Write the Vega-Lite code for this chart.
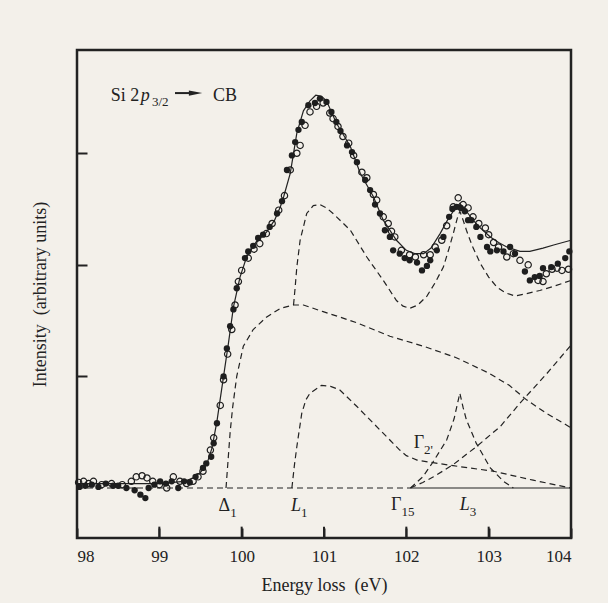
{
  "$schema": "https://vega.github.io/schema/vega-lite/v6.json",
  "width": 494,
  "height": 488,
  "autosize": {"type": "none"},
  "padding": {"left": 77, "top": 50, "right": 37, "bottom": 65},
  "background": "#f3f0ea",
  "datasets": {
    "curves": [
      {"s": "base1", "x": 98.0, "y": 0}, {"s": "base1", "x": 102.05, "y": 0},
      {"s": "base2", "x": 102.05, "y": 0}, {"s": "base2", "x": 104.0, "y": 0},
      {"s": "fit", "x": 98.0, "y": 0.04}, {"s": "fit", "x": 98.5, "y": 0.04}, {"s": "fit", "x": 99.0, "y": 0.04},
      {"s": "fit", "x": 99.3, "y": 0.06}, {"s": "fit", "x": 99.41, "y": 0.09}, {"s": "fit", "x": 99.5, "y": 0.14},
      {"s": "fit", "x": 99.575, "y": 0.21}, {"s": "fit", "x": 99.64, "y": 0.36}, {"s": "fit", "x": 99.7, "y": 0.6},
      {"s": "fit", "x": 99.78, "y": 1.0}, {"s": "fit", "x": 99.84, "y": 1.3}, {"s": "fit", "x": 99.9, "y": 1.62},
      {"s": "fit", "x": 99.98, "y": 1.89}, {"s": "fit", "x": 100.06, "y": 2.07}, {"s": "fit", "x": 100.18, "y": 2.21},
      {"s": "fit", "x": 100.3, "y": 2.29}, {"s": "fit", "x": 100.4, "y": 2.4}, {"s": "fit", "x": 100.47, "y": 2.52},
      {"s": "fit", "x": 100.51, "y": 2.61}, {"s": "fit", "x": 100.59, "y": 2.82}, {"s": "fit", "x": 100.67, "y": 3.18},
      {"s": "fit", "x": 100.75, "y": 3.38}, {"s": "fit", "x": 100.83, "y": 3.47}, {"s": "fit", "x": 100.9, "y": 3.52},
      {"s": "fit", "x": 100.97, "y": 3.51}, {"s": "fit", "x": 101.03, "y": 3.47}, {"s": "fit", "x": 101.15, "y": 3.27},
      {"s": "fit", "x": 101.32, "y": 3.06}, {"s": "fit", "x": 101.44, "y": 2.82}, {"s": "fit", "x": 101.6, "y": 2.61},
      {"s": "fit", "x": 101.72, "y": 2.4}, {"s": "fit", "x": 101.88, "y": 2.22}, {"s": "fit", "x": 102.0, "y": 2.13},
      {"s": "fit", "x": 102.1, "y": 2.1}, {"s": "fit", "x": 102.21, "y": 2.1}, {"s": "fit", "x": 102.3, "y": 2.15},
      {"s": "fit", "x": 102.41, "y": 2.28}, {"s": "fit", "x": 102.5, "y": 2.4}, {"s": "fit", "x": 102.57, "y": 2.48},
      {"s": "fit", "x": 102.65, "y": 2.55}, {"s": "fit", "x": 102.73, "y": 2.48}, {"s": "fit", "x": 102.81, "y": 2.4},
      {"s": "fit", "x": 102.9, "y": 2.33}, {"s": "fit", "x": 103.02, "y": 2.25}, {"s": "fit", "x": 103.12, "y": 2.2},
      {"s": "fit", "x": 103.22, "y": 2.16}, {"s": "fit", "x": 103.38, "y": 2.12}, {"s": "fit", "x": 103.5, "y": 2.12},
      {"s": "fit", "x": 103.66, "y": 2.15}, {"s": "fit", "x": 103.8, "y": 2.18}, {"s": "fit", "x": 104.0, "y": 2.22},
      {"s": "sum", "x": 100.63, "y": 1.64}, {"s": "sum", "x": 100.65, "y": 1.8}, {"s": "sum", "x": 100.67, "y": 1.98},
      {"s": "sum", "x": 100.71, "y": 2.22}, {"s": "sum", "x": 100.79, "y": 2.46}, {"s": "sum", "x": 100.87, "y": 2.53},
      {"s": "sum", "x": 100.95, "y": 2.54}, {"s": "sum", "x": 101.03, "y": 2.51}, {"s": "sum", "x": 101.11, "y": 2.46},
      {"s": "sum", "x": 101.32, "y": 2.31}, {"s": "sum", "x": 101.52, "y": 2.07}, {"s": "sum", "x": 101.72, "y": 1.86},
      {"s": "sum", "x": 101.88, "y": 1.68}, {"s": "sum", "x": 101.96, "y": 1.63}, {"s": "sum", "x": 102.04, "y": 1.61},
      {"s": "sum", "x": 102.14, "y": 1.64}, {"s": "sum", "x": 102.25, "y": 1.72}, {"s": "sum", "x": 102.35, "y": 1.84},
      {"s": "sum", "x": 102.45, "y": 1.98}, {"s": "sum", "x": 102.52, "y": 2.15}, {"s": "sum", "x": 102.57, "y": 2.28},
      {"s": "sum", "x": 102.62, "y": 2.42}, {"s": "sum", "x": 102.65, "y": 2.48}, {"s": "sum", "x": 102.69, "y": 2.4},
      {"s": "sum", "x": 102.73, "y": 2.31}, {"s": "sum", "x": 102.8, "y": 2.17}, {"s": "sum", "x": 102.9, "y": 2.01},
      {"s": "sum", "x": 103.0, "y": 1.89}, {"s": "sum", "x": 103.1, "y": 1.8}, {"s": "sum", "x": 103.2, "y": 1.75},
      {"s": "sum", "x": 103.32, "y": 1.72}, {"s": "sum", "x": 103.45, "y": 1.74}, {"s": "sum", "x": 103.62, "y": 1.77},
      {"s": "sum", "x": 103.8, "y": 1.81}, {"s": "sum", "x": 104.0, "y": 1.86},
      {"s": "d1", "x": 99.81, "y": 0}, {"s": "d1", "x": 99.83, "y": 0.2}, {"s": "d1", "x": 99.86, "y": 0.5},
      {"s": "d1", "x": 99.89, "y": 0.72}, {"s": "d1", "x": 99.94, "y": 1.0}, {"s": "d1", "x": 100.02, "y": 1.27},
      {"s": "d1", "x": 100.14, "y": 1.42}, {"s": "d1", "x": 100.3, "y": 1.53}, {"s": "d1", "x": 100.47, "y": 1.61},
      {"s": "d1", "x": 100.63, "y": 1.64}, {"s": "d1", "x": 100.75, "y": 1.64}, {"s": "d1", "x": 100.99, "y": 1.58},
      {"s": "d1", "x": 101.2, "y": 1.53}, {"s": "d1", "x": 101.4, "y": 1.48}, {"s": "d1", "x": 101.8, "y": 1.36},
      {"s": "d1", "x": 102.21, "y": 1.27}, {"s": "d1", "x": 102.6, "y": 1.17}, {"s": "d1", "x": 103.0, "y": 1.03},
      {"s": "d1", "x": 103.25, "y": 0.92}, {"s": "d1", "x": 103.46, "y": 0.79}, {"s": "d1", "x": 103.7, "y": 0.67},
      {"s": "d1", "x": 104.0, "y": 0.54},
      {"s": "l1", "x": 100.61, "y": 0}, {"s": "l1", "x": 100.64, "y": 0.2}, {"s": "l1", "x": 100.67, "y": 0.37},
      {"s": "l1", "x": 100.73, "y": 0.67}, {"s": "l1", "x": 100.78, "y": 0.79}, {"s": "l1", "x": 100.83, "y": 0.85},
      {"s": "l1", "x": 100.97, "y": 0.92}, {"s": "l1", "x": 101.08, "y": 0.91}, {"s": "l1", "x": 101.19, "y": 0.88},
      {"s": "l1", "x": 101.4, "y": 0.73}, {"s": "l1", "x": 101.6, "y": 0.58}, {"s": "l1", "x": 101.8, "y": 0.43},
      {"s": "l1", "x": 101.92, "y": 0.34}, {"s": "l1", "x": 102.0, "y": 0.29}, {"s": "l1", "x": 102.13, "y": 0.25},
      {"s": "l1", "x": 102.3, "y": 0.23}, {"s": "l1", "x": 102.57, "y": 0.2}, {"s": "l1", "x": 103.06, "y": 0.15},
      {"s": "l1", "x": 103.54, "y": 0.07}, {"s": "l1", "x": 104.0, "y": 0.0},
      {"s": "g15", "x": 102.05, "y": 0}, {"s": "g15", "x": 102.2, "y": 0.05}, {"s": "g15", "x": 102.33, "y": 0.1},
      {"s": "g15", "x": 102.57, "y": 0.21}, {"s": "g15", "x": 102.85, "y": 0.37}, {"s": "g15", "x": 103.14, "y": 0.55},
      {"s": "g15", "x": 103.38, "y": 0.76}, {"s": "g15", "x": 103.7, "y": 1.02}, {"s": "g15", "x": 104.0, "y": 1.28},
      {"s": "l3", "x": 102.05, "y": 0}, {"s": "l3", "x": 102.2, "y": 0.1}, {"s": "l3", "x": 102.33, "y": 0.24},
      {"s": "l3", "x": 102.49, "y": 0.43}, {"s": "l3", "x": 102.58, "y": 0.62}, {"s": "l3", "x": 102.65, "y": 0.85},
      {"s": "l3", "x": 102.69, "y": 0.72}, {"s": "l3", "x": 102.73, "y": 0.61}, {"s": "l3", "x": 102.85, "y": 0.4},
      {"s": "l3", "x": 103.02, "y": 0.18}, {"s": "l3", "x": 103.18, "y": 0.06}, {"s": "l3", "x": 103.3, "y": 0}
    ],
    "points": [
      {"k": "o", "x": 98.02, "y": 0.05}, {"k": "o", "x": 98.08, "y": 0.06}, {"k": "o", "x": 98.14, "y": 0.04},
      {"k": "o", "x": 98.2, "y": 0.06}, {"k": "o", "x": 98.3, "y": 0.03}, {"k": "o", "x": 98.42, "y": 0.04},
      {"k": "o", "x": 98.55, "y": 0.03}, {"k": "o", "x": 98.66, "y": 0.06}, {"k": "o", "x": 98.72, "y": 0.1},
      {"k": "o", "x": 98.79, "y": 0.11}, {"k": "o", "x": 98.85, "y": 0.09}, {"k": "o", "x": 98.92, "y": 0.06},
      {"k": "o", "x": 99.0, "y": 0.03}, {"k": "o", "x": 99.09, "y": 0.0}, {"k": "o", "x": 99.17, "y": 0.1},
      {"k": "o", "x": 99.25, "y": 0.06}, {"k": "o", "x": 99.33, "y": 0.04}, {"k": "o", "x": 99.41, "y": 0.06},
      {"k": "o", "x": 99.47, "y": 0.1}, {"k": "o", "x": 99.53, "y": 0.15}, {"k": "o", "x": 99.62, "y": 0.34},
      {"k": "o", "x": 99.66, "y": 0.45}, {"k": "o", "x": 99.74, "y": 0.74}, {"k": "o", "x": 99.78, "y": 0.97},
      {"k": "o", "x": 99.83, "y": 1.2}, {"k": "o", "x": 99.88, "y": 1.42}, {"k": "o", "x": 99.92, "y": 1.64},
      {"k": "o", "x": 99.96, "y": 1.85}, {"k": "o", "x": 100.0, "y": 1.95}, {"k": "o", "x": 100.08, "y": 2.06},
      {"k": "o", "x": 100.15, "y": 2.14}, {"k": "o", "x": 100.22, "y": 2.19}, {"k": "o", "x": 100.3, "y": 2.28},
      {"k": "o", "x": 100.37, "y": 2.37}, {"k": "o", "x": 100.45, "y": 2.49}, {"k": "o", "x": 100.52, "y": 2.62},
      {"k": "o", "x": 100.59, "y": 2.85}, {"k": "o", "x": 100.67, "y": 3.0}, {"k": "o", "x": 100.71, "y": 3.07},
      {"k": "o", "x": 100.77, "y": 3.25}, {"k": "o", "x": 100.83, "y": 3.37}, {"k": "o", "x": 100.91, "y": 3.42},
      {"k": "o", "x": 100.99, "y": 3.45}, {"k": "o", "x": 101.07, "y": 3.36}, {"k": "o", "x": 101.11, "y": 3.31},
      {"k": "o", "x": 101.17, "y": 3.24}, {"k": "o", "x": 101.23, "y": 3.15}, {"k": "o", "x": 101.3, "y": 3.09},
      {"k": "o", "x": 101.36, "y": 2.98}, {"k": "o", "x": 101.46, "y": 2.83}, {"k": "o", "x": 101.52, "y": 2.78},
      {"k": "o", "x": 101.6, "y": 2.63}, {"k": "o", "x": 101.64, "y": 2.58}, {"k": "o", "x": 101.72, "y": 2.43},
      {"k": "o", "x": 101.78, "y": 2.37}, {"k": "o", "x": 101.82, "y": 2.3}, {"k": "o", "x": 101.86, "y": 2.25},
      {"k": "o", "x": 101.94, "y": 2.13}, {"k": "o", "x": 102.04, "y": 2.09}, {"k": "o", "x": 102.11, "y": 2.07},
      {"k": "o", "x": 102.21, "y": 2.09}, {"k": "o", "x": 102.29, "y": 2.09}, {"k": "o", "x": 102.35, "y": 2.16},
      {"k": "o", "x": 102.43, "y": 2.22}, {"k": "o", "x": 102.49, "y": 2.35}, {"k": "o", "x": 102.57, "y": 2.52},
      {"k": "o", "x": 102.63, "y": 2.6}, {"k": "o", "x": 102.69, "y": 2.54}, {"k": "o", "x": 102.75, "y": 2.51},
      {"k": "o", "x": 102.81, "y": 2.43}, {"k": "o", "x": 102.88, "y": 2.37}, {"k": "o", "x": 102.96, "y": 2.33},
      {"k": "o", "x": 103.0, "y": 2.27}, {"k": "o", "x": 103.06, "y": 2.2}, {"k": "o", "x": 103.12, "y": 2.16},
      {"k": "o", "x": 103.22, "y": 2.07}, {"k": "o", "x": 103.3, "y": 2.1}, {"k": "o", "x": 103.38, "y": 2.04},
      {"k": "o", "x": 103.48, "y": 2.0}, {"k": "o", "x": 103.6, "y": 1.86}, {"k": "o", "x": 103.66, "y": 1.85},
      {"k": "o", "x": 103.7, "y": 1.92}, {"k": "o", "x": 103.77, "y": 1.96}, {"k": "o", "x": 103.83, "y": 1.97},
      {"k": "o", "x": 103.89, "y": 1.95}, {"k": "o", "x": 103.97, "y": 1.96},
      {"k": "f", "x": 98.03, "y": 0.01}, {"k": "f", "x": 98.1, "y": 0.02}, {"k": "f", "x": 98.18, "y": 0.03},
      {"k": "f", "x": 98.26, "y": 0.01}, {"k": "f", "x": 98.35, "y": 0.04}, {"k": "f", "x": 98.44, "y": 0.02},
      {"k": "f", "x": 98.5, "y": 0.02}, {"k": "f", "x": 98.6, "y": 0.0}, {"k": "f", "x": 98.7, "y": -0.02},
      {"k": "f", "x": 98.77, "y": -0.06}, {"k": "f", "x": 98.83, "y": -0.09}, {"k": "f", "x": 98.87, "y": 0.0},
      {"k": "f", "x": 98.94, "y": 0.03}, {"k": "f", "x": 99.01, "y": 0.06}, {"k": "f", "x": 99.08, "y": 0.04},
      {"k": "f", "x": 99.15, "y": 0.06}, {"k": "f", "x": 99.23, "y": 0.0}, {"k": "f", "x": 99.3, "y": 0.06},
      {"k": "f", "x": 99.37, "y": 0.05}, {"k": "f", "x": 99.44, "y": 0.1}, {"k": "f", "x": 99.53, "y": 0.18},
      {"k": "f", "x": 99.57, "y": 0.22}, {"k": "f", "x": 99.63, "y": 0.28}, {"k": "f", "x": 99.66, "y": 0.4},
      {"k": "f", "x": 99.7, "y": 0.58}, {"k": "f", "x": 99.78, "y": 1.0}, {"k": "f", "x": 99.82, "y": 1.25},
      {"k": "f", "x": 99.86, "y": 1.45}, {"k": "f", "x": 99.9, "y": 1.6}, {"k": "f", "x": 99.94, "y": 1.79},
      {"k": "f", "x": 100.04, "y": 2.06}, {"k": "f", "x": 100.08, "y": 2.12}, {"k": "f", "x": 100.14, "y": 2.17},
      {"k": "f", "x": 100.2, "y": 2.24}, {"k": "f", "x": 100.26, "y": 2.27}, {"k": "f", "x": 100.34, "y": 2.34},
      {"k": "f", "x": 100.43, "y": 2.46}, {"k": "f", "x": 100.49, "y": 2.57}, {"k": "f", "x": 100.55, "y": 2.85},
      {"k": "f", "x": 100.61, "y": 2.98}, {"k": "f", "x": 100.65, "y": 3.1}, {"k": "f", "x": 100.69, "y": 3.21},
      {"k": "f", "x": 100.73, "y": 3.28}, {"k": "f", "x": 100.81, "y": 3.43}, {"k": "f", "x": 100.89, "y": 3.45},
      {"k": "f", "x": 100.95, "y": 3.49}, {"k": "f", "x": 101.03, "y": 3.46}, {"k": "f", "x": 101.09, "y": 3.37},
      {"k": "f", "x": 101.15, "y": 3.28}, {"k": "f", "x": 101.2, "y": 3.2}, {"k": "f", "x": 101.28, "y": 3.07},
      {"k": "f", "x": 101.34, "y": 3.01}, {"k": "f", "x": 101.4, "y": 2.92}, {"k": "f", "x": 101.5, "y": 2.76},
      {"k": "f", "x": 101.56, "y": 2.67}, {"k": "f", "x": 101.62, "y": 2.54}, {"k": "f", "x": 101.68, "y": 2.46},
      {"k": "f", "x": 101.74, "y": 2.31}, {"k": "f", "x": 101.8, "y": 2.25}, {"k": "f", "x": 101.84, "y": 2.13},
      {"k": "f", "x": 101.92, "y": 2.1}, {"k": "f", "x": 101.98, "y": 2.06}, {"k": "f", "x": 102.04, "y": 2.04},
      {"k": "f", "x": 102.13, "y": 2.02}, {"k": "f", "x": 102.19, "y": 1.95}, {"k": "f", "x": 102.25, "y": 1.99},
      {"k": "f", "x": 102.29, "y": 2.04}, {"k": "f", "x": 102.37, "y": 2.13}, {"k": "f", "x": 102.45, "y": 2.25},
      {"k": "f", "x": 102.52, "y": 2.43}, {"k": "f", "x": 102.56, "y": 2.5}, {"k": "f", "x": 102.61, "y": 2.52},
      {"k": "f", "x": 102.66, "y": 2.51}, {"k": "f", "x": 102.71, "y": 2.48}, {"k": "f", "x": 102.75, "y": 2.4},
      {"k": "f", "x": 102.79, "y": 2.4}, {"k": "f", "x": 102.85, "y": 2.34}, {"k": "f", "x": 102.9, "y": 2.25},
      {"k": "f", "x": 102.98, "y": 2.16}, {"k": "f", "x": 103.02, "y": 2.12}, {"k": "f", "x": 103.1, "y": 2.13},
      {"k": "f", "x": 103.18, "y": 2.12}, {"k": "f", "x": 103.26, "y": 2.16}, {"k": "f", "x": 103.32, "y": 2.1},
      {"k": "f", "x": 103.44, "y": 1.94}, {"k": "f", "x": 103.5, "y": 1.86}, {"k": "f", "x": 103.56, "y": 1.89},
      {"k": "f", "x": 103.62, "y": 1.9}, {"k": "f", "x": 103.66, "y": 1.97}, {"k": "f", "x": 103.76, "y": 1.98},
      {"k": "f", "x": 103.84, "y": 2.01}, {"k": "f", "x": 103.93, "y": 2.06}, {"k": "f", "x": 103.98, "y": 2.12}
    ],
    "labels": [
      {"t": "Δ", "st": "up", "sub": "1", "x": 99.86, "y": -0.206},
      {"t": "L", "st": "it", "sub": "1", "x": 100.72, "y": -0.206},
      {"t": "Γ", "st": "up", "sub": "15", "x": 101.94, "y": -0.197},
      {"t": "L", "st": "it", "sub": "3", "x": 102.77, "y": -0.197},
      {"t": "Γ", "st": "up", "sub": "2'", "x": 102.215, "y": 0.36}
    ],
    "title": [
      {"t": "Si 2", "st": "up", "x": 98.41, "y": 3.47},
      {"t": "p", "st": "it", "x": 98.775, "y": 3.47},
      {"t": "3/2", "st": "sub", "x": 98.91, "y": 3.42},
      {"t": "CB", "st": "up", "x": 99.652, "y": 3.47}
    ],
    "xticks": [
      {"x": 99, "y": -0.4, "y2": -0.3585}, {"x": 100, "y": -0.4, "y2": -0.3585},
      {"x": 101, "y": -0.4, "y2": -0.3585}, {"x": 102, "y": -0.4, "y2": -0.3585},
      {"x": 103, "y": -0.4, "y2": -0.3585}
    ]
  },
  "encoding": {
    "x": {"field": "x", "type": "quantitative", "scale": {"domain": [98, 104], "nice": false, "zero": false},
      "axis": {"values": [98, 99, 100, 101, 102, 103, 104], "format": "d", "ticks": true, "tickSize": 10, "offset": -10, "labelPadding": 10, "title": "Energy loss\u00a0 (eV)", "titlePadding": 12}},
    "y": {"field": "y", "type": "quantitative", "scale": {"domain": [-0.448, 3.925], "nice": false, "zero": false},
      "axis": {"values": [1, 2, 3], "labels": false, "title": "Intensity\u00a0 (arbitrary units)", "titlePadding": 27}}
  },
  "layer": [
    {"data": {"name": "xticks"},
      "mark": {"type": "tick", "orient": "vertical", "size": 12, "thickness": 2, "color": "#222", "opacity": 1}},
    {"data": {"name": "curves"}, "transform": [{"filter": "datum.s == 'base1' || datum.s == 'd1' || datum.s == 'sum' || datum.s == 'l1' || datum.s == 'g15' || datum.s == 'l3'"}],
      "mark": {"type": "line", "color": "#222", "strokeWidth": 1.2, "strokeDash": [6, 4]},
      "encoding": {"detail": {"field": "s"}}},
    {"data": {"name": "curves"}, "transform": [{"filter": "datum.s == 'base2' || datum.s == 'fit'"}],
      "mark": {"type": "line", "color": "#222", "strokeWidth": 1.2},
      "encoding": {"detail": {"field": "s"}}},
    {"data": {"name": "points"}, "transform": [{"filter": "datum.k == 'f'"}],
      "mark": {"type": "point", "shape": "circle", "filled": true, "size": 40, "color": "#1e1e1e", "opacity": 1}},
    {"data": {"name": "points"}, "transform": [{"filter": "datum.k == 'o'"}],
      "mark": {"type": "point", "shape": "circle", "filled": false, "size": 40, "color": "#1e1e1e", "strokeWidth": 1.2, "opacity": 1}},
    {"data": {"name": "labels"}, "transform": [{"filter": "datum.st == 'up'"}],
      "mark": {"type": "text", "align": "right", "baseline": "alphabetic", "font": "Liberation Serif", "fontSize": 18, "color": "#222"},
      "encoding": {"text": {"field": "t"}}},
    {"data": {"name": "labels"}, "transform": [{"filter": "datum.st == 'it'"}],
      "mark": {"type": "text", "align": "right", "baseline": "alphabetic", "font": "Liberation Serif", "fontStyle": "italic", "fontSize": 18, "color": "#222"},
      "encoding": {"text": {"field": "t"}}},
    {"data": {"name": "labels"},
      "mark": {"type": "text", "align": "left", "baseline": "alphabetic", "dy": 6, "font": "Liberation Serif", "fontSize": 13, "color": "#222"},
      "encoding": {"text": {"field": "sub"}}},
    {"data": {"name": "title"}, "transform": [{"filter": "datum.st == 'up'"}],
      "mark": {"type": "text", "align": "left", "baseline": "alphabetic", "font": "Liberation Serif", "fontSize": 18, "color": "#222"},
      "encoding": {"text": {"field": "t"}}},
    {"data": {"name": "title"}, "transform": [{"filter": "datum.st == 'it'"}],
      "mark": {"type": "text", "align": "left", "baseline": "alphabetic", "font": "Liberation Serif", "fontStyle": "italic", "fontSize": 18, "color": "#222"},
      "encoding": {"text": {"field": "t"}}},
    {"data": {"name": "title"}, "transform": [{"filter": "datum.st == 'sub'"}],
      "mark": {"type": "text", "align": "left", "baseline": "alphabetic", "font": "Liberation Serif", "fontSize": 13, "color": "#222"},
      "encoding": {"text": {"field": "t"}}},
    {"data": {"values": [{"x": 99.19, "x2": 99.37, "y": 3.539}]},
      "mark": {"type": "rule", "color": "#222", "strokeWidth": 2},
      "encoding": {"x2": {"field": "x2"}}},
    {"data": {"values": [{"x": 99.44, "y": 3.539}]},
      "mark": {"type": "point", "shape": "M-1,-0.4L1,0L-1,0.4Z", "filled": true, "size": 180, "color": "#222", "opacity": 1}}
  ],
  "config": {
    "view": {"stroke": "#222", "strokeWidth": 2.5},
    "axis": {"domain": false, "grid": false, "tickColor": "#222", "tickWidth": 2, "tickSize": -10,
      "labelFont": "Liberation Serif", "labelFontSize": 17, "labelColor": "#222",
      "titleFont": "Liberation Serif", "titleFontSize": 18, "titleFontWeight": "normal", "titleColor": "#222"}
  }
}
